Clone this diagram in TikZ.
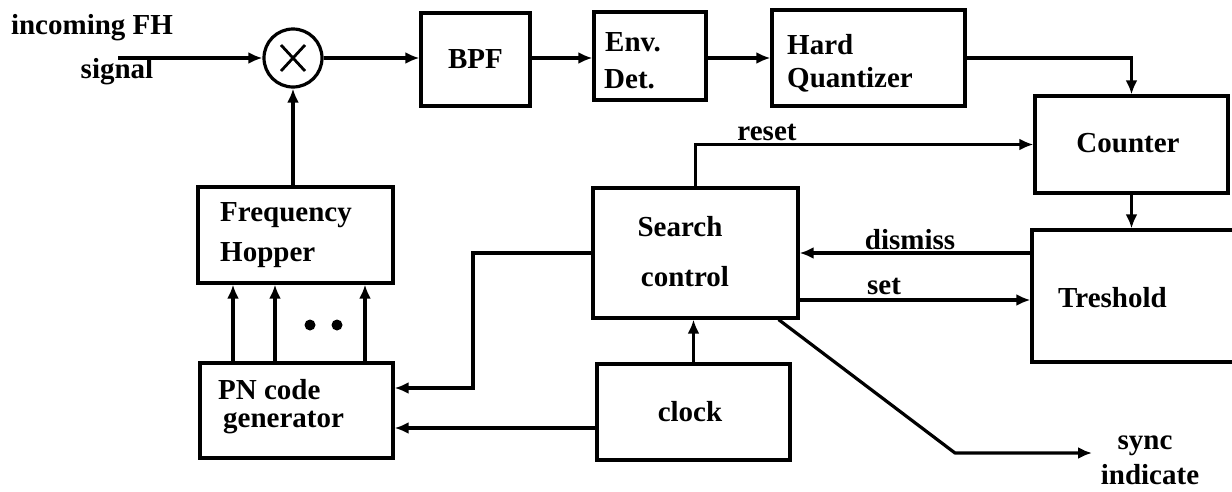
\documentclass[tikz,border=0pt]{standalone}
\usepackage{fontspec}
\setmainfont{Liberation Serif}
\usetikzlibrary{arrows.meta}
\begin{document}
\begin{tikzpicture}[x=1pt,y=-1pt,
  every node/.style={font=\fontsize{29}{32}\selectfont\bfseries},
  blk/.style={draw,line width=3.2pt,rectangle,inner sep=0pt},
  txt/.style={inner sep=0pt},
  wire/.style={line width=3.2pt},
  arr/.style={wire,-{Latex[length=14pt,width=12pt]}}]
\useasboundingbox (0,0) rectangle (1232,491);
\clip (0,0) rectangle (1232,491);

% blocks
\node[draw,circle,line width=3.2pt,minimum size=58pt,inner sep=0pt] (mix) at (293,58) {};
\node[blk,minimum width=109pt,minimum height=93pt] (bpf) at (475.5,59.5) {};
\node[blk,minimum width=112pt,minimum height=88pt] (env) at (650,56) {};
\node[blk,minimum width=193pt,minimum height=96pt] (hq) at (868.5,58) {};
\node[blk,minimum width=193pt,minimum height=97pt] (cnt) at (1131.5,144.5) {};
\node[blk,minimum width=213pt,minimum height=132pt] (thr) at (1138.5,296) {};
\node[blk,minimum width=205pt,minimum height=130pt] (sc) at (695.5,253) {};
\node[blk,minimum width=193pt,minimum height=96pt] (clk) at (693.5,412) {};
\node[blk,minimum width=193pt,minimum height=95pt] (pn) at (296.5,410.5) {};
\node[blk,minimum width=195pt,minimum height=96pt] (fh) at (295.5,235) {};

% multiplier cross
\draw[line width=2.8pt] ([shift={(-12pt,-13pt)}]mix.center) -- ([shift={(12pt,13pt)}]mix.center);
\draw[line width=2.8pt] ([shift={(12pt,-13pt)}]mix.center) -- ([shift={(-12pt,13pt)}]mix.center);

% texts
\node[txt] (t-inc) at (92,28) {incoming FH};
\node[txt] (t-sig) at (117,72) {signal};
\node[txt] (t-bpf) at (bpf) {BPF};
\node[txt,anchor=west] (t-env) at (605,42) {Env.};
\node[txt,anchor=west] (t-det) at (604,79) {Det.};
\node[txt,anchor=west] (t-hard) at (787,45) {Hard};
\node[txt,anchor=west] (t-quant) at (787,80) {Quantizer};
\node[txt] (t-cnt) at (1128,143) {Counter};
\node[txt,anchor=west] (t-thr) at (1058,298) {Treshold};
\node[txt] (t-search) at (680,227) {Search};
\node[txt] (t-control) at (685,277) {control};
\node[txt] (t-clock) at (690,412) {clock};
\node[txt,anchor=west] (t-pn) at (218,390) {PN code};
\node[txt,anchor=west] (t-gen) at (223,423) {generator};
\node[txt,anchor=west] (t-freq) at (220,215) {Frequency};
\node[txt,anchor=west] (t-hop) at (220,255) {Hopper};
\node[txt] (t-reset) at (767,132) {reset};
\node[txt] (t-dismiss) at (910,240) {dismiss};
\node[txt] (t-set) at (884,286) {set};
\node[txt] (t-sync) at (1145,446) {sync};
\node[txt] (t-ind) at (1150,475) {indicate};

% helper coordinates
\coordinate (in) at (118,58);
\coordinate (sety) at (0,300);
\coordinate (bend) at (473,388);
\coordinate (clky) at (0,428);
\coordinate (p1) at (233,0);
\coordinate (p2) at (275,0);
\coordinate (p3) at (365,0);
\coordinate (synck) at (955,453);
\coordinate (syncout) at (1092,453);

% signal path
\draw[arr] (in) -- (mix.west);
\draw[arr] (mix.east) -- (mix.east -| bpf.west);
\draw[arr] (bpf.east |- mix) -- (env.west |- mix);
\draw[arr] (env.east |- mix) -- (hq.west |- mix);
\draw[arr] (hq.east |- mix) -| (cnt.north);
\draw[arr] (cnt.south) -- (cnt.south |- thr.north);

% control loop
\draw[arr] (sc.north) |- (cnt.west);
\draw[arr] (thr.west |- sc.east) -- (sc.east);
\draw[arr] (sc.east |- sety) -- (thr.west |- sety);
\draw[arr] (sc.west) -| (bend) -- (pn.east |- bend);
\draw[arr] (clk.west |- clky) -- (pn.east |- clky);
\draw[arr] (clk.north) -- (clk.north |- sc.south);
\draw[arr] (mix.south |- fh.north) -- (mix.south);
\foreach \p in {p1,p2,p3}
  \draw[arr] (pn.north -| \p) -- (fh.south -| \p);
\fill (310,325) circle (5.5pt) (337,325) circle (5.5pt);
\draw[arr,line join=round] ([xshift=-21pt]sc.south east) -- (synck) -- (syncout);
\end{tikzpicture}
\end{document}
